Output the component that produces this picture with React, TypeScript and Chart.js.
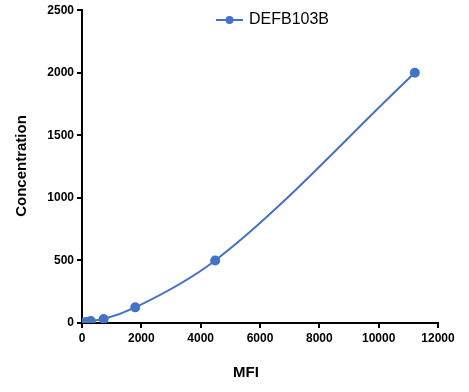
import React, { useEffect, useRef } from "react";
import { Chart, registerables } from "chart.js";

Chart.register(...registerables);

const seriesName = "DEFB103B";
const mfiValues = [25, 135, 295, 730, 1795, 4490, 11220];
const concValues = [0, 7.8, 15.6, 31.25, 125, 500, 2000];
const xTitle = "MFI";
const yTitle = "Concentration";
const blue = "#4472C4";

export default function App() {
  const ref = useRef<HTMLCanvasElement | null>(null);
  useEffect(() => {
    if (!ref.current) return;
    const overlay = {
      id: "overlay",
      afterDraw(chart: any) {
        const ctx = chart.ctx;
        ctx.save();
        // legend
        ctx.strokeStyle = blue;
        ctx.lineWidth = 2;
        ctx.beginPath();
        ctx.moveTo(216, 20);
        ctx.lineTo(243, 20);
        ctx.stroke();
        ctx.fillStyle = blue;
        ctx.beginPath();
        ctx.arc(229.5, 20, 4, 0, Math.PI * 2);
        ctx.fill();
        ctx.fillStyle = "#000";
        ctx.font = "16px Arial, 'Liberation Sans', sans-serif";
        ctx.textBaseline = "middle";
        ctx.textAlign = "left";
        ctx.fillText(chart.data.datasets[0].label, 249, 20);
        // titles
        ctx.font = "bold 15px Arial, 'Liberation Sans', sans-serif";
        ctx.textAlign = "center";
        ctx.fillText(xTitle, 246, 373);
        ctx.translate(22, 166);
        ctx.rotate(-Math.PI / 2);
        ctx.fillText(yTitle, 0, 0);
        ctx.restore();
      },
    };
    const tickFont = { family: "Arial, 'Liberation Sans', sans-serif", size: 12, weight: "bold" as const };
    const plain = (v: any) => String(v);
    const chart = new Chart(ref.current, {
      type: "line",
      data: {
        datasets: [
          {
            label: seriesName,
            data: mfiValues.map((x, i) => ({ x, y: concValues[i] })),
            borderColor: blue,
            backgroundColor: blue,
            borderWidth: 2,
            pointRadius: 4,
            pointBackgroundColor: blue,
            pointBorderColor: blue,
            cubicInterpolationMode: "monotone",
          },
        ],
      },
      options: {
        animation: false,
        responsive: false,
        maintainAspectRatio: false,
        layout: { padding: { left: 0, right: 31, top: 10, bottom: 0 } },
        plugins: { legend: { display: false }, tooltip: { enabled: false } },
        scales: {
          x: {
            type: "linear",
            min: 0,
            max: 12000,
            ticks: { stepSize: 2000, color: "#000", font: tickFont, padding: 3, maxRotation: 0, callback: plain },
            grid: { drawOnChartArea: false, drawTicks: true, tickLength: 5, color: "#000", lineWidth: 2 },
            border: { color: "#000", width: 2 },
            afterFit(scale: any) {
              scale.height = 69;
            },
          },
          y: {
            type: "linear",
            min: 0,
            max: 2500,
            ticks: { stepSize: 500, color: "#000", font: tickFont, padding: 3, callback: plain },
            grid: { drawOnChartArea: false, drawTicks: true, tickLength: 5, color: "#000", lineWidth: 2 },
            border: { color: "#000", width: 2 },
            afterFit(scale: any) {
              scale.width = 82;
            },
          },
        },
      },
      plugins: [overlay],
    });
    return () => chart.destroy();
  }, []);
  return (
    <div style={{ position: "fixed", left: 0, top: 0, width: 469, height: 392, background: "#fff" }}>
      <canvas ref={ref} width={469} height={392} style={{ width: 469, height: 392 }} />
    </div>
  );
}
